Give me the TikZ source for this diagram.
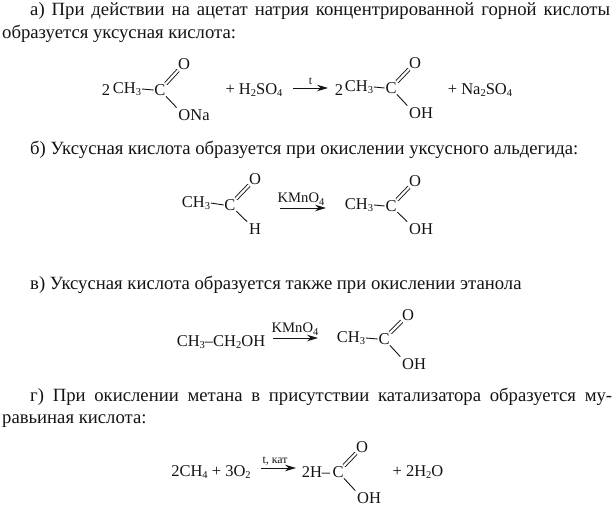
\documentclass[tikz,border=0pt]{standalone}
\usepackage{fontspec}
\setmainfont{Liberation Serif}
\usetikzlibrary{arrows.meta}
\newcommand{\sbs}[1]{\raisebox{-2.8pt}{\fontsize{10.5}{11}\selectfont #1}}
\tikzset{
  body/.style={anchor=base west,inner sep=0pt,text=black!92,font=\fontsize{18.7}{21}\selectfont},
  chem/.style={inner sep=0.6pt,text=black!92,font=\fontsize{16.5}{19}\selectfont},
  reagent/.style={inner sep=0pt,text=black!92,font=\fontsize{14.6}{17}\selectfont},
  small/.style={inner sep=0pt,text=black!92,font=\fontsize{11.8}{13}\selectfont},
  bond/.style={line width=0.9pt,draw=black!92},
  dbond/.style={bond,double,double distance=2.2pt,draw=black!92},
  sbond/.style={bond,shorten >=1.5pt},
  rxn/.style={line width=0.9pt,draw=black!92,-{Stealth[length=11pt,width=6.5pt]}},
}
\begin{document}
\begin{tikzpicture}[x=1pt,y=-1pt]
\useasboundingbox[fill=white] (0,0) rectangle (616,506);
% texts
\node[body] (t1) at (30,16) {\makebox[580pt][s]{а) При действии на ацетат натрия концентрированной горной кислоты}};
\node[body] (t2) at (2,38) {образуется уксусная кислота:};
\node[body] (t3) at (30,154) {б) Уксусная кислота образуется при окислении уксусного альдегида:};
\node[body] (t4) at (30,289) {в) Уксусная кислота образуется также при окислении этанола};
\node[body] (t5) at (30,401) {\makebox[582pt][s]{г) При окислении метана в присутствии катализатора образуется му-}};
\node[body] (t6) at (2,423) {равьиная кислота:};
% a
\node[chem] (a2) at (106,90) {2};
\node[chem] (ach) at (127,89) {CH\sbs{3}};
\node[chem] (ac) at (160,90) {C};
\node[chem] (ao) at (184,64) {O};
\node[chem] (aona) at (194,115) {ONa};
\node[chem] (aplus) at (254,90) {+ H\sbs{2}SO\sbs{4}};
\draw[bond] (ach.east) -- (ac.west);
\draw[dbond] (ac) -- (ao);
\draw[sbond] (ac) -- (aona.north west);
\coordinate (ar1) at (293,88); \coordinate (ar2) at (328,88);
\draw[rxn] (ar1) -- node[small,above=3pt] (at) {t} (ar2);
\node[chem] (b2) at (339,90) {2};
\node[chem] (bch) at (359,87) {CH\sbs{3}};
\node[chem] (bc) at (391,88) {C};
\node[chem] (bo) at (415,63) {O};
\node[chem] (boh) at (421,113) {OH};
\node[chem] (bplus) at (480,90) {+ Na\sbs{2}SO\sbs{4}};
\draw[bond] (bch.east) -- (bc.west);
\draw[dbond] (bc) -- (bo);
\draw[sbond] (bc) -- (boh.north west);
% b
\node[chem] (cch) at (196,203) {CH\sbs{3}};
\node[chem] (cc) at (230,205) {C};
\node[chem] (co) at (255,179) {O};
\node[chem] (ch) at (255,229) {H};
\draw[bond] (cch.east) -- (cc.west);
\draw[dbond] (cc) -- (co);
\draw[sbond] (cc) -- (ch.north west);
\coordinate (br1) at (280,208); \coordinate (br2) at (326,208);
\draw[rxn] (br1) -- (br2);
\node[reagent] (ck) at (301,199) {KMnO\sbs{4}};
\node[chem] (dch) at (359,205) {CH\sbs{3}};
\node[chem] (dc) at (391,206) {C};
\node[chem] (do) at (415,181) {O};
\node[chem] (doh) at (421,229) {OH};
\draw[bond] (dch.east) -- (dc.west);
\draw[dbond] (dc) -- (do);
\draw[sbond] (dc) -- (doh.north west);
% c
\node[chem] (e) at (221,342) {CH\sbs{3}–CH\sbs{2}OH};
\coordinate (cr1) at (273,338); \coordinate (cr2) at (318,338);
\draw[rxn] (cr1) -- (cr2);
\node[reagent] (ek) at (295,329) {KMnO\sbs{4}};
\node[chem] (fch) at (351,338) {CH\sbs{3}};
\node[chem] (fc) at (384,339) {C};
\node[chem] (fo) at (408,315) {O};
\node[chem] (foh) at (414,364) {OH};
\draw[bond] (fch.east) -- (fc.west);
\draw[dbond] (fc) -- (fo);
\draw[sbond] (fc) -- (foh.north west);
% d
\node[chem] (g) at (211,472) {2CH\sbs{4} + 3O\sbs{2}};
\coordinate (dr1) at (261,468); \coordinate (dr2) at (296,468);
\draw[rxn] (dr1) -- (dr2);
\node[small] (gk) at (275,461) {t, кат};
\node[chem] (hh) at (316,472) {2H–};
\node[chem] (hc) at (338,472) {C};
\node[chem] (ho) at (362,447) {O};
\node[chem] (hoh) at (369,498) {OH};
\node[chem] (hplus) at (418,472) {+ 2H\sbs{2}O};
\draw[dbond] (hc) -- (ho);
\draw[sbond] (hc) -- (hoh.north west);
\end{tikzpicture}
\end{document}
